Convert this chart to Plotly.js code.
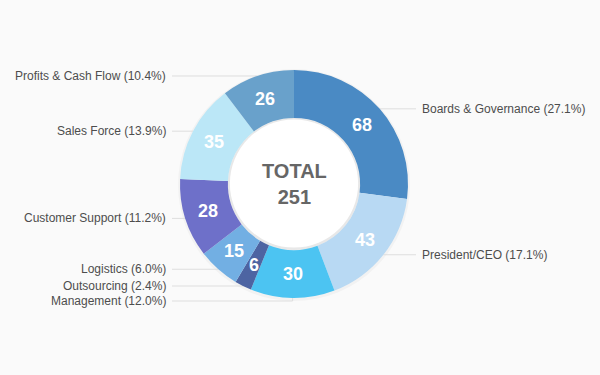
<!DOCTYPE html>
<html>
<head>
<meta charset="utf-8">
<script src="https://cdn.plot.ly/plotly-3.0.1.min.js"></script>
<style>html,body{margin:0;padding:0;background:#fafafa;}#chart{width:600px;height:375px;}</style>
</head>
<body>
<div id="chart"></div>
<script>
const categories = ["Boards & Governance", "President/CEO", "Management", "Outsourcing", "Logistics", "Customer Support", "Sales Force", "Profits & Cash Flow"];
const counts = [68, 43, 30, 6, 15, 28, 35, 26];
const sliceColors = ["#4a8ac4", "#b8d9f3", "#4cc4f2", "#4d64a2", "#72afe3", "#6e70c9", "#bbe7f7", "#69a1cb"];
const centerTitle = "TOTAL";

const W = 600, H = 375;
const CX = 294, CY = 184, R = 114, HOLE = 0.58;
const FONT = "Liberation Sans, Arial, sans-serif";

const total = counts.reduce((a, b) => a + b, 0);
const px = x => x / W;
const py = y => 1 - y / H;
const RH = R * HOLE;
const RM = (R + RH) / 2;

// slice mid points on the outer edge and ring middle
let cum = 0;
const items = counts.map((v, i) => {
  const th = 2 * Math.PI * (cum + v / 2) / total;
  cum += v;
  const s = Math.sin(th), c = Math.cos(th);
  return {i, v, ex: CX + R * s, ey: CY - R * c, mx: CX + RM * s, my: CY - RM * c,
          ly: CY - R * c, right: s > 0,
          text: categories[i] + " (" + (100 * v / total).toFixed(1) + "%)"};
});
// resolve label collisions per side
[true, false].forEach(side => {
  const s = items.filter(d => d.right === side).sort((a, b) => a.ey - b.ey);
  for (let k = 1; k < s.length; k++) {
    if (s[k].ly - s[k - 1].ly < 15) s[k].ly = s[k - 1].ly + 15;
  }
});

const shapes = [];
const annotations = [];
// soft shadow around the ring
shapes.push({type: "circle", layer: "below", xref: "paper", yref: "paper",
  x0: px(CX - R - 2), x1: px(CX + R + 2), y0: py(CY + R + 3), y1: py(CY - R - 1),
  fillcolor: "rgba(0,0,0,0.03)", line: {width: 0}});
// hole with inner shadow
shapes.push({type: "circle", layer: "below", xref: "paper", yref: "paper",
  x0: px(CX - RH), x1: px(CX + RH), y0: py(CY + RH), y1: py(CY - RH),
  fillcolor: "#e8e8e8", line: {width: 0}});
shapes.push({type: "circle", layer: "below", xref: "paper", yref: "paper",
  x0: px(CX - RH + 2), x1: px(CX + RH - 2), y0: py(CY + RH - 2.5), y1: py(CY - RH + 1.5),
  fillcolor: "#ffffff", line: {width: 0}});

items.forEach(d => {
  const lx = d.right ? 416 : 172;
  shapes.push({type: "path", layer: "below", xref: "paper", yref: "paper",
    path: "M" + px(lx) + "," + py(d.ly) + " L" + px(d.ex) + "," + py(d.ly) + " L" + px(d.ex) + "," + py(d.ey),
    line: {color: "#dedede", width: 1}});
  annotations.push({xref: "paper", yref: "paper", x: px(d.right ? 420 : 168), y: py(d.ly),
    xanchor: d.right ? "left" : "right", yanchor: "middle", showarrow: false,
    text: d.text, font: {family: FONT, size: 12, color: "#4d4d4d"}});
  annotations.push({xref: "paper", yref: "paper", x: px(d.mx), y: py(d.my),
    xanchor: "center", yanchor: "middle", showarrow: false,
    text: "<b>" + d.v + "</b>", font: {family: FONT, size: 18, color: "#ffffff"}});
});

annotations.push({xref: "paper", yref: "paper", x: px(CX), y: py(CY), xanchor: "center", yanchor: "middle",
  showarrow: false, text: "<b>" + centerTitle + "</b><br><b>" + total + "</b>",
  font: {family: FONT, size: 20, color: "#666666"}});

const trace = {
  type: "pie", labels: categories, values: counts, sort: false, direction: "clockwise", rotation: 0,
  hole: HOLE, marker: {colors: sliceColors, line: {width: 0}},
  textinfo: "none",
  domain: {x: [px(CX - R), px(CX + R)], y: [py(CY + R), py(CY - R)]},
  showlegend: false, hoverinfo: "none"
};

Plotly.newPlot("chart", [trace], {
  width: W, height: H, margin: {l: 0, r: 0, t: 0, b: 0},
  paper_bgcolor: "#fafafa", plot_bgcolor: "#fafafa",
  shapes, annotations, showlegend: false
}, {displayModeBar: false, staticPlot: true});
</script>
</body>
</html>
